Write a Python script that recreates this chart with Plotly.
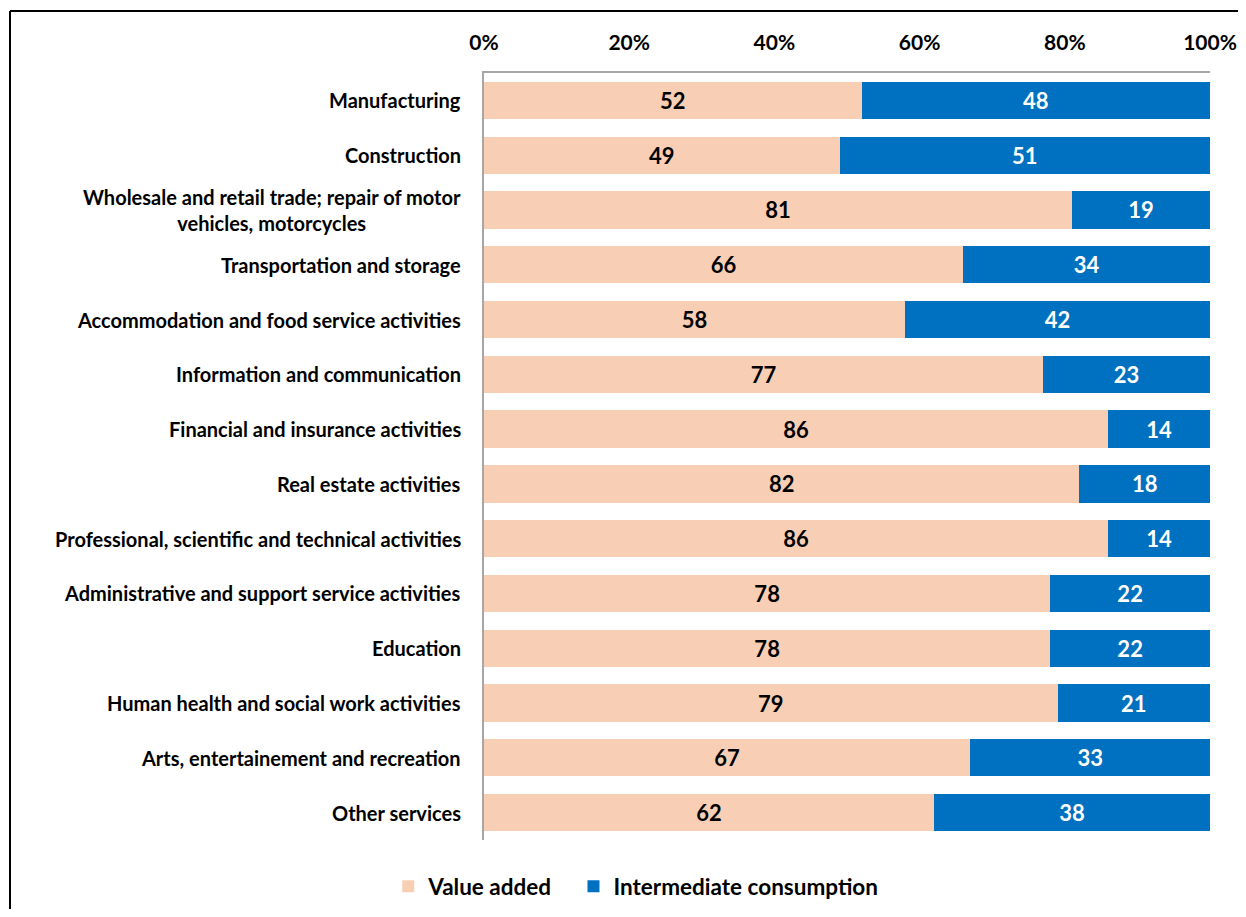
import plotly.graph_objects as go

categories = [
    "Manufacturing",
    "Construction",
    "Wholesale and retail trade; repair of motor<br>vehicles, motorcycles",
    "Transportation and storage",
    "Accommodation and food service activities",
    "Information and communication",
    "Financial and insurance activities",
    "Real estate activities",
    "Professional, scientific and technical activities",
    "Administrative and support service activities",
    "Education",
    "Human health and social work activities",
    "Arts, entertainement and recreation",
    "Other services",
]
value_added = [52, 49, 81, 66, 58, 77, 86, 82, 86, 78, 78, 79, 67, 62]
intermediate = [48, 51, 19, 34, 42, 23, 14, 18, 14, 22, 22, 21, 33, 38]
tick_vals = [0, 20, 40, 60, 80, 100]
tick_text = ["0%", "20%", "40%", "60%", "80%", "100%"]

FONT = "Lato"
W, H = 1238, 901
L, R, T, B = 476, 36, 65, 69

fig = go.Figure()
fig.add_trace(go.Bar(
    y=categories, x=value_added, orientation="h",
    name="Value added" + "\u00a0" * 3,
    marker=dict(color="#F8CFB4", line=dict(width=0)),
    text=[str(v) for v in value_added], textposition="inside",
    insidetextanchor="middle", textangle=0,
    textfont=dict(family=FONT, size=22, color="black", weight="bold"),
))
fig.add_trace(go.Bar(
    y=categories, x=intermediate, orientation="h", name="Intermediate consumption",
    marker=dict(color="#0070C0", line=dict(width=0)),
    text=[str(v) for v in intermediate], textposition="inside",
    insidetextanchor="middle", textangle=0,
    textfont=dict(family=FONT, size=22, color="white", weight="bold"),
))

pw = W - L - R
ph = H - T - B
x_left = (2 - L) / pw
y_top = 1 + (T - 3) / ph

annotations = [
    dict(xref="paper", yref="y", x=0, y=c, text=c, xanchor="right",
         yanchor="middle", xshift=-21, align="center", showarrow=False,
         font=dict(family=FONT, size=20, color="black", weight="bold"))
    for c in categories
]

fig.update_layout(
    width=W, height=H,
    margin=dict(l=L, r=R, t=T, b=B, autoexpand=False),
    barmode="stack", bargap=0.32,
    paper_bgcolor="white", plot_bgcolor="white",
    font=dict(family=FONT, color="black"),
    uniformtext=dict(mode=False),
    xaxis=dict(
        side="top", range=[0, 100], tickvals=tick_vals, ticktext=tick_text,
        showgrid=False, zeroline=False, showline=True, linecolor="#A6A6A6",
        linewidth=1.5, ticks="", ticklabelstandoff=13,
        tickfont=dict(family=FONT, size=21, color="black", weight="bold"),
        fixedrange=True,
    ),
    yaxis=dict(
        autorange="reversed", showgrid=False, zeroline=False, showline=True,
        linecolor="#A6A6A6", linewidth=1.5, ticks="", showticklabels=False,
    ),
    legend=dict(
        orientation="h", x=0.209, xanchor="center", y=-0.0326, yanchor="top",
        font=dict(family=FONT, size=22.5, color="black", weight="bold"),
        itemwidth=30, traceorder="normal",
    ),
    showlegend=True,
    annotations=annotations,
    shapes=[
        dict(type="line", xref="paper", yref="paper", x0=x_left, x1=1 + R / pw + 0.02,
             y0=y_top, y1=y_top, line=dict(color="black", width=2)),
        dict(type="line", xref="paper", yref="paper", x0=x_left, x1=x_left,
             y0=y_top, y1=-B / ph - 0.05, line=dict(color="black", width=2)),
    ],
)

fig.write_html("out.html")
